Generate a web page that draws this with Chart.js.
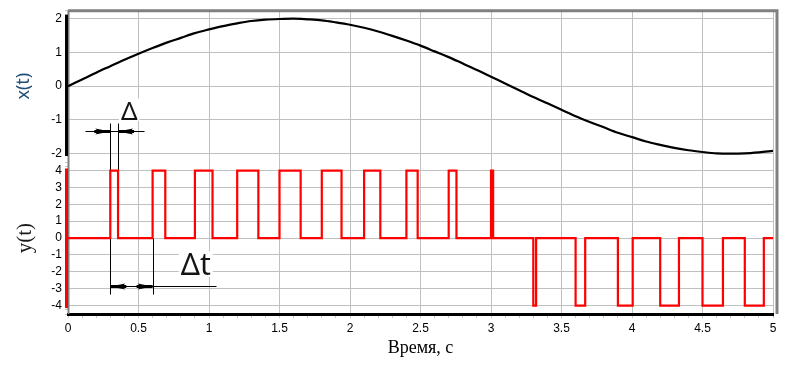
<!DOCTYPE html>
<html>
<head>
<meta charset="utf-8">
<script src="https://cdn.jsdelivr.net/npm/chart.js@4.4.1/dist/chart.umd.min.js"></script>
<style>
  html, body { margin: 0; padding: 0; background: #fff; }
  #wrap { width: 788px; height: 365px; }
</style>
</head>
<body>
<div id="wrap"><canvas id="chart" width="788" height="365"></canvas></div>
<script>
// x(t): every 0.1 s
const timeX = [0, 0.1, 0.2, 0.3, 0.4, 0.5, 0.6, 0.7, 0.8, 0.9,
    1, 1.1, 1.2, 1.3, 1.4, 1.5, 1.6, 1.7, 1.8, 1.9,
    2, 2.1, 2.2, 2.3, 2.4, 2.5, 2.6, 2.7, 2.8, 2.9,
    3, 3.1, 3.2, 3.3, 3.4, 3.5, 3.6, 3.7, 3.8, 3.9,
    4, 4.1, 4.2, 4.3, 4.4, 4.5, 4.6, 4.7, 4.8, 4.9, 5];
const valuesX = [0, 0.2, 0.4, 0.59, 0.78, 0.96, 1.13, 1.29, 1.43, 1.57,
    1.68, 1.78, 1.86, 1.93, 1.97, 1.99, 2, 1.98, 1.95, 1.89,
    1.82, 1.73, 1.62, 1.49, 1.35, 1.2, 1.03, 0.86, 0.67, 0.48,
    0.28, 0.08, -0.12, -0.32, -0.51, -0.7, -0.89, -1.06, -1.22, -1.38,
    -1.51, -1.64, -1.74, -1.83, -1.9, -1.95, -1.99, -2, -1.99, -1.96, -1.92];

// y(t): pulses (start, end, level)
const pulseStart = [0.3, 0.6, 0.9, 1.2, 1.5, 1.8, 2.1, 2.4, 2.7, 3.0,
    3.3, 3.6, 3.9, 4.2, 4.5, 4.8];
const pulseEnd = [0.355, 0.69, 1.025, 1.35, 1.65, 1.94, 2.215, 2.48, 2.755, 3.015,
    3.32, 3.668, 4.005, 4.333, 4.645, 4.935];
const pulseLevel = [4, 4, 4, 4, 4, 4, 4, 4, 4, 4,
    -4, -4, -4, -4, -4, -4];

const xTickLabels = [0, 0.5, 1, 1.5, 2, 2.5, 3, 3.5, 4, 4.5, 5];
const yTopLabels = [-2, -1, 0, 1, 2];
const yBottomLabels = [-4, -3, -2, -1, 0, 1, 2, 3, 4];

const sinePoints = timeX.map((t, i) => ({ x: t, y: valuesX[i] }));

const squarePoints = [{ x: 0, y: 0 }];
pulseStart.forEach((s, i) => {
    squarePoints.push(
        { x: s, y: 0 },
        { x: s, y: pulseLevel[i] },
        { x: pulseEnd[i], y: pulseLevel[i] },
        { x: pulseEnd[i], y: 0 }
    );
});
squarePoints.push({ x: 5, y: 0 });

const near = (list, v) => list.some(l => Math.abs(l - v) < 1e-6);
const tickFont = { family: 'Liberation Sans', size: 12 };

// frame, axis bars and the Δ / Δt marks
const decorations = {
    id: 'decorations',
    beforeDatasetsDraw(chart) {
        const { ctx, chartArea: area, scales: { x, yTop, yBottom } } = chart;
        const px = t => x.getPixelForValue(t);
        ctx.save();

        // grey frame
        ctx.strokeStyle = '#808080';
        ctx.lineWidth = 3;
        ctx.beginPath();
        ctx.moveTo(area.left, area.top + 0.5);
        ctx.lineTo(area.right + 4, area.top + 0.5);
        ctx.lineTo(area.right + 4, area.bottom);
        ctx.stroke();
        ctx.lineWidth = 2;
        ctx.beginPath();
        ctx.moveTo(area.left + 0.5, area.top);
        ctx.lineTo(area.left + 0.5, area.bottom);
        ctx.stroke();

        ctx.strokeStyle = '#000';
        ctx.fillStyle = '#000';
        ctx.lineWidth = 1;
        const line = (x1, y1, x2, y2) => {
            ctx.beginPath();
            ctx.moveTo(Math.round(x1) + 0.5, Math.round(y1) + 0.5);
            ctx.lineTo(Math.round(x2) + 0.5, Math.round(y2) + 0.5);
            ctx.stroke();
        };
        const arrow = (tipX, y, dir) => {
            const yy = Math.round(y) + 0.5;
            ctx.beginPath();
            ctx.moveTo(tipX, yy);
            ctx.lineTo(tipX - dir * 15, yy - 3);
            ctx.lineTo(tipX - dir * 12, yy);
            ctx.lineTo(tipX - dir * 15, yy + 3);
            ctx.closePath();
            ctx.fill();
            ctx.fillRect(Math.min(tipX, tipX - dir * 16), yy - 1.5, 16, 3);
        };

        // Δ
        const a = px(pulseStart[0]), b = px(pulseEnd[0]);
        line(a, yTop.getPixelForValue(-1.08), a, yBottom.getPixelForValue(-3.32));
        line(b, yTop.getPixelForValue(-1.08), b, yBottom.getPixelForValue(4));
        const yd = yTop.getPixelForValue(-1.34);
        line(px(0.12), yd, px(0.54), yd);
        arrow(a, yd, 1);
        arrow(b, yd, -1);

        // Δt
        const c = px(pulseStart[1]);
        line(c, yBottom.getPixelForValue(0), c, yBottom.getPixelForValue(-3.32));
        const yt = yBottom.getPixelForValue(-2.85);
        line(a, yt, px(1.05), yt);
        arrow(a, yt, -1);
        arrow(c, yt, 1);

        const label = (text, size, t, baseY) => {
            ctx.font = size + 'px "Noto Sans"';
            const w = ctx.measureText(text).width;
            const lx = px(t);
            ctx.fillStyle = '#fff';
            ctx.fillRect(lx - 2, baseY - size * 0.8, w + 4, size * 0.85);
            ctx.fillStyle = '#141414';
            ctx.textBaseline = 'alphabetic';
            ctx.fillText(text, lx, baseY);
        };
        label('Δ', 26, 0.375, yTop.getPixelForValue(-0.99));
        label('Δt', 30, 0.8, yBottom.getPixelForValue(-2.2));
        ctx.restore();
    },
    afterDatasetsDraw(chart) {
        const { ctx, chartArea: area, scales: { yTop, yBottom } } = chart;
        ctx.save();
        ctx.lineWidth = 3;
        ctx.strokeStyle = '#000';
        ctx.beginPath();
        ctx.moveTo(area.left - 1.5, yTop.getPixelForValue(2.12));
        ctx.lineTo(area.left - 1.5, yTop.getPixelForValue(-2.07));
        ctx.stroke();
        ctx.strokeStyle = '#ff0000';
        ctx.beginPath();
        ctx.moveTo(area.left - 1.5, yBottom.getPixelForValue(4.12));
        ctx.lineTo(area.left - 1.5, yBottom.getPixelForValue(-4.15));
        ctx.stroke();
        ctx.restore();
    }
};

const yAxis = (labels, range, title) => ({
    type: 'linear',
    position: 'left',
    stack: 'panels',
    stackWeight: 1,
    min: -range,
    max: range,
    ticks: {
        stepSize: 0.25,
        autoSkip: false,
        padding: 3,
        color: '#000',
        font: tickFont,
        callback: v => near(labels, v) ? String(Math.round(v)) : '',
    },
    grid: {
        color: c => near(labels, c.tick.value) ? '#c0c0c0' : 'rgba(0,0,0,0)',
        tickColor: '#c8c8c8',
        tickLength: 3,
    },
    border: { display: false },
    title: title,
    afterFit: s => { s.width = 68; },
});

new Chart(document.getElementById('chart'), {
    type: 'line',
    data: {
        datasets: [
            {
                label: 'x(t)',
                data: sinePoints,
                yAxisID: 'yTop',
                borderColor: '#000',
                borderWidth: 2.2,
                pointRadius: 0,
                cubicInterpolationMode: 'monotone',
            },
            {
                label: 'y(t)',
                data: squarePoints,
                yAxisID: 'yBottom',
                borderColor: '#ff0000',
                borderWidth: 2.2,
                pointRadius: 0,
                tension: 0,
            },
        ],
    },
    options: {
        responsive: false,
        animation: false,
        events: [],
        layout: { padding: { top: 9, right: 15, left: 0, bottom: 0 } },
        plugins: {
            legend: { display: false },
            tooltip: { enabled: false },
        },
        scales: {
            x: {
                type: 'linear',
                min: 0,
                max: 5,
                ticks: {
                    stepSize: 0.1,
                    autoSkip: false,
                    maxRotation: 0,
                    padding: 3,
                    color: '#000',
                    font: tickFont,
                    callback: v => near(xTickLabels, v) ? String(Math.round(v * 10) / 10) : '',
                },
                grid: {
                    color: c => near(xTickLabels, c.tick.value) ? '#c0c0c0' : 'rgba(0,0,0,0)',
                    tickColor: '#c8c8c8',
                    tickLength: 4,
                },
                border: { display: true, color: '#000', width: 3 },
                title: {
                    display: true,
                    text: 'Время, с',
                    color: '#000',
                    font: { family: 'Liberation Serif', size: 18 },
                    padding: { top: 0, bottom: 6 },
                },
                afterFit: s => { s.height = 51; },
            },
            yBottom: yAxis(yBottomLabels, 4.5, {
                display: true,
                text: 'y(t)',
                color: '#1a1a1a',
                font: { family: 'Liberation Serif', size: 21 },
                padding: { top: 13, bottom: 0 },
            }),
            yTop: yAxis(yTopLabels, 2.25, {
                display: true,
                text: 'x(t)',
                color: '#1f4e79',
                font: { family: 'Noto Sans', size: 18 },
                padding: { top: 13, bottom: 0 },
            }),
        },
    },
    plugins: [decorations],
});
</script>
</body>
</html>
